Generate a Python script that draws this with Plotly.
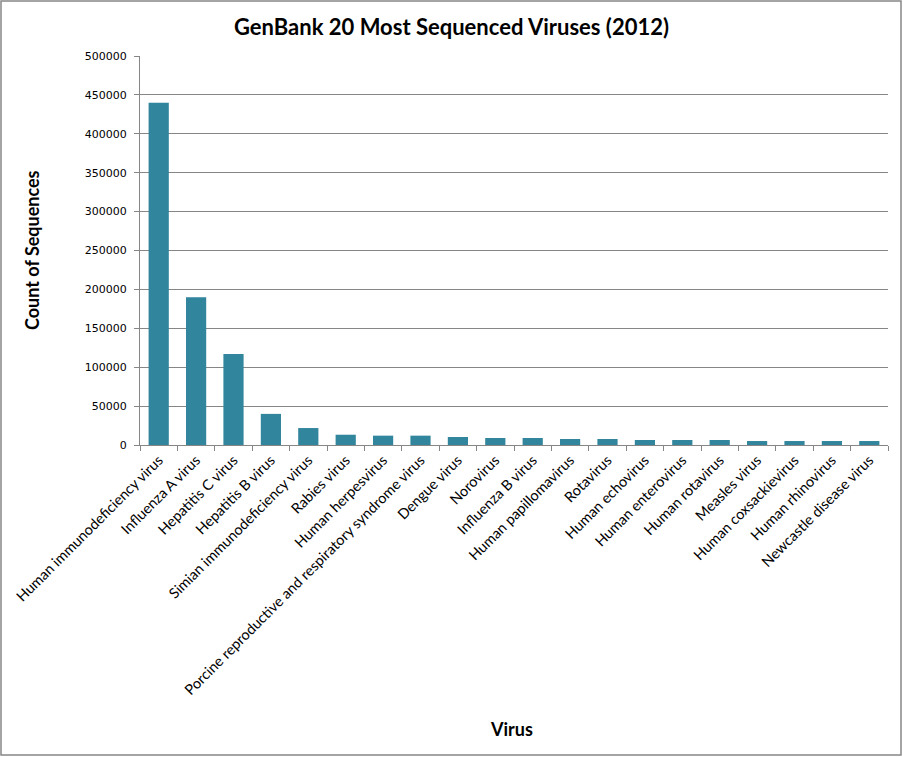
import plotly.graph_objects as go

# GenBank counts
viruses = [
    "Human immunodeficiency virus", "Influenza A virus", "Hepatitis C virus",
    "Hepatitis B virus", "Simian immunodeficiency virus", "Rabies virus",
    "Human herpesvirus", "Porcine reproductive and respiratory syndrome virus",
    "Dengue virus", "Norovirus", "Influenza B virus", "Human papillomavirus",
    "Rotavirus", "Human echovirus", "Human enterovirus", "Human rotavirus",
    "Measles virus", "Human coxsackievirus", "Human rhinovirus",
    "Newcastle disease virus",
]
counts = [
    440000, 190000, 117000, 40000, 21800, 13200, 12000, 12000, 10300, 9000,
    9000, 7700, 7700, 6400, 6400, 6400, 5100, 5100, 5100, 5100,
]
y_ticks = [0, 50000, 100000, 150000, 200000, 250000, 300000, 350000, 400000, 450000, 500000]

W, H = 903, 757
L, R, T, B = 140, 15, 56, 312
pw, ph = W - L - R, H - T - B
grey = "#868686"
font = "Lato, Calibri, sans-serif"

fig = go.Figure()
fig.add_trace(go.Bar(x=viruses, y=counts, marker_color="#31859C", marker_line_width=0))

fig.update_layout(
    width=W, height=H,
    margin=dict(l=L, r=R, t=T, b=B),
    plot_bgcolor="white", paper_bgcolor="white",
    bargap=0.46,
    showlegend=False,
    title=dict(text="<b>GenBank 20 Most Sequenced Viruses (2012)</b>",
               x=0.5, xanchor="center", y=1 - 27 / H, yanchor="middle",
               font=dict(family=font, size=22, color="black")),
)
fig.update_xaxes(
    tickangle=-45, tickfont=dict(family=font, size=14.5, color="black"),
    showline=True, linecolor=grey, linewidth=1,
    ticks="outside", tickson="boundaries", ticklen=5, tickcolor=grey,
    automargin=False,
)
fig.update_yaxes(
    range=[0, 500000], tickvals=y_ticks, ticktext=[str(v) for v in y_ticks],
    tickfont=dict(family="DejaVu Sans, Verdana, sans-serif", size=11, color="black"),
    showline=True, linecolor=grey, linewidth=1,
    showgrid=True, gridcolor=grey, gridwidth=1,
    ticks="outside", ticklen=5, tickcolor=grey, ticklabelstandoff=5,
    zeroline=False, automargin=False,
)

fig.add_annotation(text="<b>Count of Sequences</b>", textangle=-90,
                   xref="paper", yref="paper", x=(32 - L) / pw, y=(445 - 250) / ph,
                   xanchor="center", yanchor="middle",
                   showarrow=False, font=dict(family=font, size=18, color="black"))
fig.add_annotation(text="<b>Virus</b>",
                   xref="paper", yref="paper", x=(511 - L) / pw, y=(445 - 729) / ph,
                   xanchor="center", yanchor="middle",
                   showarrow=False, font=dict(family=font, size=18, color="black"))

# chart border
fig.add_shape(type="rect", xref="paper", yref="paper",
              x0=(1 - L) / pw, x1=(901 - L) / pw, y0=(445 - 755) / ph, y1=(445 - 1) / ph,
              line=dict(color=grey, width=1.5))

# drop the default page margin so the figure sits at the window corner
fig.write_html("out.html", config={"displayModeBar": False},
               post_script="document.body.style.margin='0';")
